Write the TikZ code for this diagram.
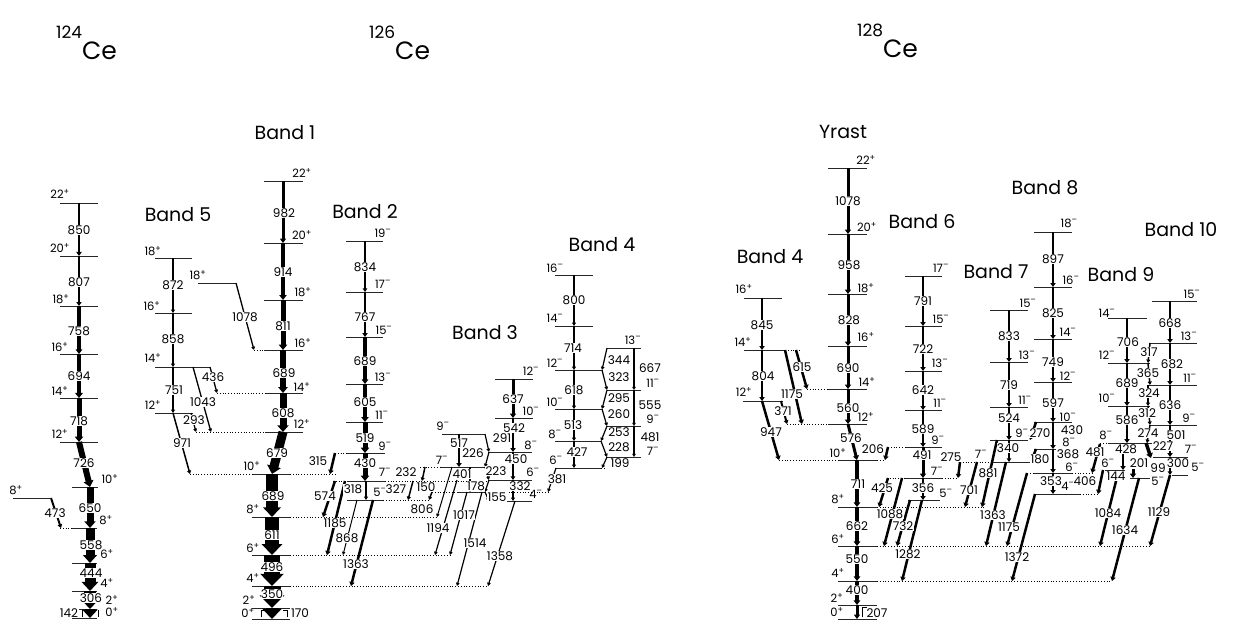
\documentclass[tikz,border=0pt]{standalone}
\usepackage{fontspec}
\setmainfont{Poppins}
\usetikzlibrary{arrows.meta}
% level line, dotted extension, gamma ray, energy label, spin label
\newcommand\Lv[3]{\draw[lvl] (#1,#3) -- (#2,#3);}
\newcommand\Dx[3]{\draw[ext] (#1,#3) -- (#2,#3);}
\newcommand\Gm[5]{\draw[gam, line width=#5pt] (#1,#2) -- (#3,#4);}
\newcommand\Elab[3]{\node[elab] at (#1,#2) {#3};}
\newcommand\Slab[4]{\node[slab] at (#1,#2) {#3\textsuperscript{#4}};}
\newcommand\Nuc[3]{\node[anchor=base west, inner sep=0pt] at (#1,#2) {\raisebox{21pt}{\fontsize{17}{17}\selectfont #3}\fontsize{25}{25}\selectfont Ce};}
\begin{document}
\begin{tikzpicture}[x=1pt,y=-1pt,
  lvl/.style={line width=0.9pt, black!85},
  ext/.style={line width=0.8pt, dotted},
  gam/.style={black, -{Triangle[length=2.5pt 0.6, width=2pt 1.3]}},
  elab/.style={fill=white, inner sep=0.4pt, font=\fontsize{12}{13}\selectfont},
  slab/.style={inner sep=0pt, font=\fontsize{11.5}{12}\selectfont},
  band/.style={inner sep=0pt, font=\fontsize{19}{21}\selectfont}]
\useasboundingbox[fill=white] (0,0) rectangle (1233,628);

% ---------------- nuclide titles
\Nuc{56}{60}{124}
\Nuc{369}{60}{126}
\Nuc{857}{58}{128}

% ---------------- band titles
\node[band] at (285,133) {Band 1};
\node[band] at (178,215) {Band 5};
\node[band] at (365,212) {Band 2};
\node[band] at (485,333) {Band 3};
\node[band] at (602,245) {Band 4};
\node[band] at (843,132) {Yrast};
\node[band] at (770,257) {Band 4};
\node[band] at (922,222) {Band 6};
\node[band] at (996,272) {Band 7};
\node[band] at (1045,188) {Band 8};
\node[band] at (1121,275) {Band 9};
\node[band] at (1181,230) {Band 10};

% ================= 124Ce =================
\Lv{60}{98}{203}\Lv{60}{98}{256}\Lv{60}{98}{306}\Lv{60}{98}{354}
\Lv{60}{98}{398}\Lv{60}{98}{442}\Lv{72}{98}{487}\Lv{72}{97}{528}
\Dx{60}{72}{528}\Lv{72}{97}{563}\Lv{72}{97}{591}\Lv{72}{97}{609}
\Lv{72}{97}{618}\Lv{13}{50}{498}
\Gm{79}{203}{79}{256}{2.5}\Gm{79}{256}{79}{306}{2.5}\Gm{79}{306}{79}{354}{3.5}
\Gm{79}{354}{79}{398}{4.5}\Gm{79}{398}{79}{442}{5}\Gm{79}{442}{90}{487}{6}
\Gm{90}{487}{90}{528}{7}\Gm{90}{528}{90}{563}{9}\Gm{90}{563}{90}{591}{11}
\Gm{90}{591}{90}{609}{12}\Gm{90}{609}{90}{618}{10}\Gm{51}{498}{61}{528}{2}
\draw[line width=0.6pt] (82,610) -- (82,617) (98,610) -- (98,617);
\Elab{79}{230}{850}\Elab{79}{282}{807}\Elab{79}{331}{758}\Elab{79}{376}{694}
\Elab{79}{421}{718}\Elab{84}{463}{726}\Elab{90}{508}{650}\Elab{91}{545}{558}
\Elab{91}{573}{444}\Elab{91}{598}{306}\Elab{69}{613}{142}\Elab{55}{513}{473}
\Slab{60}{194}{22}{+}\Slab{60}{248}{20}{+}\Slab{61}{299}{18}{+}\Slab{60}{347}{16}{+}
\Slab{60}{391}{14}{+}\Slab{60}{434}{12}{+}\Slab{110}{479}{10}{+}\Slab{106}{520}{8}{+}
\Slab{16}{490}{8}{+}\Slab{107}{554}{6}{+}\Slab{107}{583}{4}{+}\Slab{112}{600}{2}{+}
\Slab{112}{612}{0}{+}

% ================= 126Ce =================
% band 5
\Lv{155}{192}{258}\Lv{155}{192}{313}\Lv{155}{210}{367}\Lv{155}{193}{413}\Lv{198}{236}{283}
% band 1
\Lv{264}{303}{181}\Lv{264}{303}{243}\Lv{264}{303}{300}\Lv{264}{303}{350}
\Lv{265}{303}{393}\Lv{265}{303}{432}\Lv{252}{290}{474}\Lv{252}{290}{517}
\Lv{252}{290}{555}\Lv{252}{290}{586}\Lv{252}{290}{608}\Lv{252}{290}{619}
\Dx{254}{264}{350}\Dx{217}{265}{393}\Dx{196}{265}{432}\Dx{190}{252}{474}
\Dx{290}{335}{474}\Dx{290}{437}{517}\Dx{290}{450}{555}\Dx{290}{488}{586}
% band 2
\Lv{346}{383}{241}\Lv{346}{383}{292}\Lv{346}{383}{337}\Lv{346}{383}{384}
\Lv{346}{383}{422}\Lv{347}{385}{453}\Lv{347}{385}{481}\Lv{347}{383}{500}
\Dx{335}{347}{453}\Dx{333}{347}{481}\Dx{385}{488}{481}\Dx{383}{430}{500}
% band 3
\Lv{495}{533}{379}\Lv{495}{533}{418}\Lv{488}{532}{452}\Lv{488}{532}{480}\Lv{488}{532}{501}
\Lv{442}{485}{434}\Lv{440}{485}{467}\Lv{457}{485}{492}
\Dx{420}{440}{467}\Dx{432}{457}{492}\Dx{489}{548}{492}
% band 4
\Lv{555}{593}{275}\Lv{555}{593}{326}\Lv{555}{603}{370}\Lv{555}{603}{409}
\Lv{555}{601}{441}\Lv{555}{601}{468}\Dx{601}{606}{468}
\Lv{607}{641}{348}\Lv{607}{641}{390}\Lv{607}{641}{426}\Lv{607}{641}{457}

% gammas band 5
\Gm{173}{258}{173}{313}{1.5}\Gm{173}{313}{173}{367}{1.5}\Gm{173}{367}{173}{413}{1.5}
\Gm{173}{413}{190}{474}{1.5}\Gm{193}{367}{211}{432}{1.3}\Gm{210}{367}{217}{393}{1.3}
\Gm{191}{413}{196}{432}{1.3}\Gm{236}{283}{254}{350}{1.3}
% gammas band 1
\Gm{283}{181}{283}{243}{3}\Gm{283}{243}{283}{300}{4}\Gm{283}{300}{283}{350}{5}
\Gm{283}{350}{283}{393}{5.5}\Gm{283}{393}{283}{432}{7}\Gm{283}{432}{272}{474}{9}
\Gm{272}{474}{272}{517}{12}\Gm{272}{517}{272}{555}{14}\Gm{272}{555}{272}{586}{16}
\Gm{272}{586}{272}{608}{17}\Gm{272}{608}{272}{619}{13}
\draw[line width=0.6pt] (261,617) -- (261,610) -- (265,610) (283,610) -- (287,610) -- (287,617);
% gammas band 2
\Gm{365}{241}{365}{292}{2}\Gm{365}{292}{365}{337}{2.5}\Gm{365}{337}{365}{384}{3.5}
\Gm{365}{384}{365}{422}{4}\Gm{365}{422}{365}{453}{5}\Gm{365}{453}{365}{481}{5}
\Gm{366}{481}{366}{500}{1.5}
\Gm{335}{453}{330}{474}{2.5}\Gm{335}{481}{323}{517}{2.5}\Gm{345}{481}{327}{555}{2.5}
\Gm{357}{500}{343}{555}{1}\Gm{373}{500}{351}{586}{2.5}
% gammas band 3
\Gm{513}{379}{513}{418}{3}\Gm{513}{418}{513}{452}{2.5}\Gm{513}{452}{513}{480}{2}
\Gm{513}{480}{513}{501}{1.5}\Gm{459}{434}{459}{467}{2.5}\Gm{470}{467}{470}{492}{1.5}
\Gm{485}{434}{489}{452}{1.2}\Gm{489}{452}{485}{467}{1.2}\Gm{485}{467}{489}{480}{1.2}
\Gm{489}{480}{485}{492}{1.2}\Gm{485}{492}{489}{501}{1.2}
\Gm{425}{467}{422}{481}{1.5}\Gm{413}{481}{408}{500}{1.5}\Gm{432}{492}{429}{500}{1.5}
\Gm{452}{467}{437}{517}{1}\Gm{457}{480}{435}{555}{1.2}\Gm{467}{492}{450}{555}{1.2}
\Gm{482}{492}{457}{586}{1.2}\Gm{515}{501}{488}{586}{1.2}
% gammas band 4
\Gm{574}{275}{574}{326}{1.5}\Gm{574}{326}{574}{370}{1.5}\Gm{574}{370}{574}{409}{1.5}
\Gm{574}{409}{574}{441}{1.5}\Gm{574}{441}{574}{468}{1.5}
\Gm{634}{348}{634}{390}{1.2}\Gm{634}{390}{634}{426}{1.2}\Gm{634}{426}{634}{457}{1.2}
\Gm{607}{348}{602}{370}{1.2}\Gm{602}{370}{607}{390}{1.2}\Gm{607}{390}{602}{409}{1.2}
\Gm{602}{409}{607}{426}{1.2}\Gm{607}{426}{601}{441}{1.2}\Gm{601}{441}{607}{457}{1.2}
\Gm{607}{457}{602}{468}{1.2}\Gm{556}{468}{548}{492}{1.2}

% labels band 5
\Elab{173}{285}{872}\Elab{173}{339}{858}\Elab{174}{390}{751}\Elab{182}{443}{971}
\Elab{203}{402}{1043}\Elab{213}{377}{436}\Elab{194}{420}{293}\Elab{245}{317}{1078}
\Slab{153}{251}{18}{+}\Slab{152}{306}{16}{+}\Slab{153}{358}{14}{+}\Slab{153}{405}{12}{+}
\Slab{198}{275}{18}{+}
% labels band 1
\Elab{284}{213}{982}\Elab{283}{272}{914}\Elab{283}{326}{811}\Elab{284}{373}{689}
\Elab{283}{413}{608}\Elab{277}{453}{679}\Elab{273}{496}{689}\Elab{272}{535}{611}
\Elab{272}{567}{496}\Elab{272}{594}{350}\Elab{300}{613}{170}
\Slab{302}{173}{22}{+}\Slab{302}{235}{20}{+}\Slab{303}{292}{18}{+}\Slab{303}{343}{16}{+}
\Slab{302}{387}{14}{+}\Slab{302}{424}{12}{+}\Slab{252}{466}{10}{+}\Slab{253}{509}{8}{+}
\Slab{253}{548}{6}{+}\Slab{253}{578}{4}{+}\Slab{249}{600}{2}{+}\Slab{248}{613}{0}{+}
% labels band 2
\Elab{365}{267}{834}\Elab{365}{317}{767}\Elab{365}{361}{689}\Elab{365}{402}{605}
\Elab{365}{438}{519}\Elab{365}{463}{430}\Elab{353}{489}{318}\Elab{318}{461}{315}
\Elab{325}{496}{574}\Elab{335}{523}{1185}\Elab{347}{538}{868}\Elab{356}{564}{1363}
\Slab{383}{233}{19}{--}\Slab{383}{284}{17}{--}\Slab{384}{330}{15}{--}\Slab{383}{377}{13}{--}
\Slab{382}{415}{11}{--}\Slab{385}{446}{9}{--}\Slab{385}{472}{7}{--}\Slab{380}{492}{5}{--}
% labels band 3
\Elab{513}{399}{637}\Elab{514}{428}{542}\Elab{516}{459}{450}\Elab{520}{486}{332}
\Elab{459}{443}{517}\Elab{462}{474}{401}\Elab{502}{438}{291}\Elab{473}{453}{226}
\Elab{496}{471}{223}\Elab{476}{486}{178}\Elab{497}{497}{155}
\Elab{406}{472}{232}\Elab{396}{489}{327}\Elab{426}{487}{150}\Elab{422}{509}{806}
\Elab{438}{528}{1194}\Elab{464}{515}{1017}\Elab{475}{543}{1514}\Elab{500}{556}{1358}
\Slab{531}{371}{12}{--}\Slab{531}{411}{10}{--}\Slab{531}{445}{8}{--}\Slab{533}{472}{6}{--}
\Slab{536}{494}{4}{--}\Slab{443}{426}{9}{--}\Slab{442}{460}{7}{--}
% labels band 4
\Elab{574}{300}{800}\Elab{573}{348}{714}\Elab{574}{390}{618}\Elab{573}{425}{513}
\Elab{577}{452}{427}\Elab{557}{479}{381}
\Elab{619}{360}{344}\Elab{619}{377}{323}\Elab{619}{398}{295}\Elab{619}{414}{260}
\Elab{619}{432}{253}\Elab{619}{447}{228}\Elab{620}{463}{199}
\Elab{650}{368}{667}\Elab{650}{405}{555}\Elab{650}{437}{481}
\Slab{555}{268}{16}{--}\Slab{555}{318}{14}{--}\Slab{555}{363}{12}{--}\Slab{555}{402}{10}{--}
\Slab{555}{434}{8}{--}\Slab{556}{460}{6}{--}
\Slab{633}{340}{13}{--}\Slab{653}{383}{11}{--}\Slab{653}{419}{9}{--}\Slab{653}{451}{7}{--}

% ================= 128Ce =================
% band 4
\Lv{744}{782}{298}\Lv{744}{785}{350}\Dx{785}{800}{350}\Lv{743}{783}{401}
% yrast
\Lv{828}{867}{168}\Lv{828}{867}{234}\Lv{828}{867}{294}\Lv{828}{867}{346}
\Lv{828}{867}{389}\Lv{828}{867}{424}\Lv{838}{877}{460}\Lv{838}{877}{507}
\Lv{838}{877}{546}\Lv{838}{877}{581}\Lv{838}{877}{605}\Lv{838}{877}{619}
\Dx{807}{828}{389}\Dx{787}{828}{424}\Dx{779}{838}{460}\Dx{877}{885}{460}
\Dx{877}{985}{507}\Dx{877}{1150}{546}\Dx{877}{1112}{581}
\draw[line width=0.6pt] (862,617) -- (862,607) -- (867,607);
% band 6
\Lv{905}{942}{276}\Lv{905}{942}{326}\Lv{905}{942}{371}\Lv{905}{942}{410}
\Lv{905}{942}{447}\Lv{905}{942}{478}\Lv{908}{940}{500}
\Dx{888}{905}{447}\Dx{887}{905}{478}\Dx{942}{958}{478}
% band 7
\Lv{990}{1028}{310}\Lv{990}{1028}{362}\Lv{990}{1028}{407}\Lv{990}{1028}{440}
\Lv{993}{1030}{462}\Dx{960}{993}{462}
% band 8
\Lv{1034}{1072}{232}\Lv{1034}{1072}{287}\Lv{1034}{1072}{339}\Lv{1034}{1072}{382}
\Lv{1034}{1072}{422}\Lv{1034}{1072}{449}\Lv{1034}{1072}{473}\Lv{1034}{1080}{494}
\Dx{1027}{1034}{473}\Dx{1072}{1092}{473}\Dx{1080}{1098}{494}
% band 9
\Lv{1108}{1147}{318}\Lv{1108}{1150}{363}\Lv{1108}{1150}{406}\Lv{1108}{1152}{443}
\Lv{1105}{1125}{470}\Lv{1130}{1150}{478}\Dx{1100}{1108}{443}
% band 10
\Lv{1152}{1197}{301}\Lv{1150}{1197}{343}\Lv{1147}{1197}{385}\Lv{1150}{1197}{425}
\Lv{1153}{1188}{457}\Lv{1172}{1188}{475}

% gammas band 4 / yrast
\Gm{762}{298}{762}{350}{2.5}\Gm{762}{350}{762}{401}{2.5}\Gm{762}{401}{779}{460}{2.5}
\Gm{785}{350}{802}{424}{2.5}\Gm{796}{350}{807}{389}{2.5}\Gm{781}{401}{787}{424}{2}
\Gm{848}{168}{848}{234}{3}\Gm{848}{234}{848}{294}{3}\Gm{848}{294}{848}{346}{3}
\Gm{848}{346}{848}{389}{3}\Gm{848}{389}{848}{424}{3}\Gm{848}{424}{857}{460}{3}
\Gm{857}{460}{857}{507}{3.5}\Gm{857}{507}{857}{546}{3.5}\Gm{857}{546}{857}{581}{3.5}
\Gm{857}{581}{857}{605}{3.5}\Gm{857}{605}{857}{619}{3}
\Gm{888}{447}{885}{460}{2.5}\Gm{888}{478}{879}{507}{2.5}\Gm{902}{478}{884}{546}{2.5}
\Gm{910}{500}{897}{546}{2.5}\Gm{922}{500}{902}{581}{2.5}
% gammas band 6 / 7
\Gm{923}{276}{923}{326}{2.5}\Gm{923}{326}{923}{371}{2.5}\Gm{923}{371}{923}{410}{2.5}
\Gm{923}{410}{923}{447}{2.5}\Gm{923}{447}{923}{478}{3}\Gm{923}{478}{923}{500}{2.5}
\Gm{960}{462}{958}{478}{2.5}\Gm{977}{462}{965}{507}{2.5}\Gm{997}{440}{982}{507}{2.5}
\Gm{1009}{310}{1009}{362}{2.5}\Gm{1009}{362}{1009}{407}{2.5}\Gm{1009}{407}{1009}{440}{2.5}
\Gm{1009}{440}{1009}{462}{2}\Gm{1006}{462}{986}{546}{2.5}
% gammas band 8
\Gm{1053}{232}{1053}{287}{2.5}\Gm{1053}{287}{1053}{339}{2.5}\Gm{1053}{339}{1053}{382}{2.5}
\Gm{1053}{382}{1053}{422}{2.5}\Gm{1053}{422}{1053}{449}{2.5}\Gm{1053}{449}{1053}{473}{2.5}
\Gm{1053}{473}{1053}{494}{2.5}
\Gm{1036}{422}{1030}{440}{2.5}\Gm{1036}{449}{1031}{462}{2.5}
\Gm{1027}{473}{1007}{546}{2.5}\Gm{1035}{494}{1012}{581}{2.5}
% gammas band 9 / 10
\Gm{1127}{318}{1127}{363}{2.5}\Gm{1127}{363}{1127}{406}{2.5}\Gm{1127}{406}{1127}{443}{2.5}
\Gm{1123}{443}{1123}{470}{2.5}
\Gm{1100}{444}{1092}{473}{2.5}\Gm{1103}{470}{1098}{494}{2.5}
\Gm{1117}{477}{1100}{546}{2.5}\Gm{1139}{478}{1112}{581}{2.5}
\Gm{1133}{469}{1133}{478}{3}
\Gm{1170}{301}{1170}{343}{2.5}\Gm{1170}{343}{1170}{385}{2.5}\Gm{1170}{385}{1170}{425}{2.5}
\Gm{1170}{425}{1170}{457}{2.5}\Gm{1170}{457}{1170}{475}{2}\Gm{1170}{475}{1150}{546}{2.5}
\Gm{1150}{343}{1148}{363}{1.5}\Gm{1148}{363}{1150}{385}{1.5}\Gm{1148}{385}{1148}{406}{1.5}
\Gm{1148}{406}{1150}{425}{1.5}\Gm{1150}{425}{1147}{443}{1.5}\Gm{1146}{443}{1151}{458}{3.5}

% labels band 4 / yrast
\Elab{762}{325}{845}\Elab{763}{376}{804}\Elab{771}{432}{947}\Elab{792}{394}{1175}
\Elab{802}{367}{615}\Elab{783}{411}{371}
\Slab{744}{289}{16}{+}\Slab{743}{342}{14}{+}\Slab{744}{392}{12}{+}
\Elab{848}{201}{1078}\Elab{849}{265}{958}\Elab{849}{320}{828}\Elab{848}{368}{690}
\Elab{848}{408}{560}\Elab{851}{438}{576}\Elab{858}{484}{711}\Elab{857}{526}{662}
\Elab{857}{559}{550}\Elab{857}{590}{400}\Elab{877}{613}{207}
\Elab{873}{449}{206}\Elab{882}{488}{425}\Elab{890}{514}{1088}\Elab{903}{526}{732}
\Elab{908}{554}{1282}
\Slab{866}{160}{22}{+}\Slab{867}{227}{20}{+}\Slab{866}{288}{18}{+}\Slab{866}{337}{16}{+}
\Slab{867}{382}{14}{+}\Slab{866}{417}{12}{+}\Slab{838}{453}{10}{+}\Slab{838}{499}{8}{+}
\Slab{838}{539}{6}{+}\Slab{838}{573}{4}{+}\Slab{837}{598}{2}{+}\Slab{837}{612}{0}{+}
% labels band 6 / 7
\Elab{923}{301}{791}\Elab{923}{349}{722}\Elab{923}{390}{642}\Elab{923}{429}{589}
\Elab{922}{455}{491}\Elab{923}{488}{356}\Elab{951}{457}{275}\Elab{969}{490}{701}
\Elab{988}{473}{881}
\Slab{941}{268}{17}{--}\Slab{941}{319}{15}{--}\Slab{940}{363}{13}{--}\Slab{940}{403}{11}{--}
\Slab{938}{440}{9}{--}\Slab{937}{471}{7}{--}\Slab{946}{493}{5}{--}
\Elab{1009}{336}{833}\Elab{1009}{385}{719}\Elab{1009}{418}{524}\Elab{1008}{448}{340}
\Elab{993}{515}{1363}
\Slab{1028}{303}{15}{--}\Slab{1027}{355}{13}{--}\Slab{1025}{400}{11}{--}\Slab{1022}{433}{9}{--}
\Slab{981}{454}{7}{--}
% labels band 8
\Elab{1053}{259}{897}\Elab{1053}{313}{825}\Elab{1053}{362}{749}\Elab{1053}{403}{597}
\Elab{1072}{430}{430}\Elab{1068}{454}{368}\Elab{1051}{481}{353}
\Elab{1040}{433}{270}\Elab{1040}{459}{180}\Elab{1009}{527}{1175}\Elab{1017}{557}{1372}
\Slab{1069}{223}{18}{--}\Slab{1071}{280}{16}{--}\Slab{1068}{332}{14}{--}\Slab{1068}{376}{12}{--}
\Slab{1068}{417}{10}{--}\Slab{1069}{442}{8}{--}\Slab{1072}{467}{6}{--}\Slab{1068}{486}{4}{--}
% labels band 9 / 10
\Elab{1128}{342}{706}\Elab{1127}{383}{689}\Elab{1127}{420}{586}\Elab{1126}{449}{428}
\Elab{1095}{452}{481}\Elab{1085}{481}{406}\Elab{1116}{476}{144}\Elab{1108}{513}{1084}
\Elab{1125}{530}{1634}\Elab{1139}{463}{201}\Elab{1158}{468}{99}
\Slab{1107}{313}{14}{--}\Slab{1107}{355}{12}{--}\Slab{1107}{398}{10}{--}\Slab{1106}{435}{8}{--}
\Slab{1108}{463}{6}{--}\Slab{1158}{481}{5}{--}
\Elab{1170}{323}{668}\Elab{1172}{364}{682}\Elab{1170}{405}{636}\Elab{1176}{435}{501}
\Elab{1178}{463}{300}\Elab{1159}{512}{1129}
\Elab{1149}{352}{317}\Elab{1148}{373}{365}\Elab{1149}{393}{324}\Elab{1147}{413}{312}
\Elab{1148}{433}{274}\Elab{1163}{446}{227}
\Slab{1192}{294}{15}{--}\Slab{1189}{336}{13}{--}\Slab{1190}{378}{11}{--}\Slab{1189}{418}{9}{--}
\Slab{1191}{449}{7}{--}\Slab{1198}{467}{5}{--}
\end{tikzpicture}
\end{document}
